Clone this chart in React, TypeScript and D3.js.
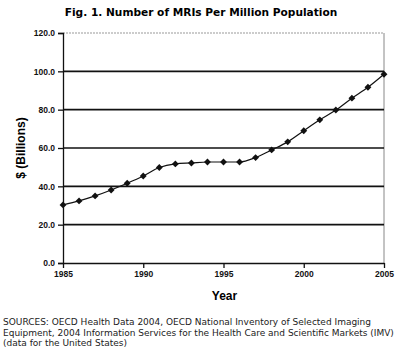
import React, { useRef, useEffect } from "react";
import * as d3 from "d3";

// MRIs per million population, US, 1985-2005
const years = [1985, 1986, 1987, 1988, 1989, 1990, 1991, 1992, 1993, 1994, 1995,
  1996, 1997, 1998, 1999, 2000, 2001, 2002, 2003, 2004, 2005];
const values = [30.3, 32.4, 35.0, 38.1, 41.6, 45.4, 49.8, 51.7, 52.2, 52.7, 52.7,
  52.7, 55.0, 59.0, 63.2, 69.0, 74.7, 79.8, 86.0, 91.7, 98.5];
const yTicks = [0, 20, 40, 60, 80, 100, 120];
const xTickYears = [1985, 1990, 1995, 2000, 2005];
const sourceLines = [
  "SOURCES: OECD Health Data 2004, OECD National Inventory of Selected Imaging",
  "Equipment, 2004 Information Services for the Health Care and Scientific Markets (IMV)",
  "(data for the United States)",
];

const width = 400;
const height = 352;

const App = () => {
  const ref = useRef<SVGSVGElement>(null);

  useEffect(() => {
    const svg = d3.select(ref.current);
    svg.selectChildren().remove();

    const margin = { top: 33, right: 16, bottom: 89, left: 63 };
    const w = width - margin.left - margin.right;
    const h = height - margin.top - margin.bottom;

    const x = d3.scaleLinear().domain([1985, 2005]).range([0, w]);
    const y = d3.scaleLinear().domain([0, 120]).range([h, 0]);

    // Título
    svg.append("text")
      .attr("x", 201)
      .attr("y", 16)
      .attr("text-anchor", "middle")
      .style("font-family", "'DejaVu Sans', Verdana, sans-serif")
      .style("font-weight", "bold")
      .style("font-size", "10.6px")
      .text("Fig. 1. Number of MRIs Per Million Population");

    const g = svg.append("g").attr("transform", `translate(${margin.left},${margin.top})`);

    // Marco gris
    g.append("line")
      .attr("x1", 0).attr("x2", w).attr("y1", 0).attr("y2", 0)
      .style("stroke", "#999").style("stroke-dasharray", "2,1");
    g.append("line")
      .attr("x1", w).attr("x2", w).attr("y1", 0).attr("y2", h)
      .style("stroke", "#888");

    // Rejilla
    g.selectAll(".grid")
      .data(yTicks.filter((d) => d > 0 && d < 120))
      .enter()
      .append("line")
      .attr("x1", 0).attr("x2", w)
      .attr("y1", (d) => y(d)).attr("y2", (d) => y(d))
      .style("stroke", "#111").style("stroke-width", 1.6);

    // Eje Y
    const yAxis = g.append("g")
      .call(d3.axisLeft(y).tickValues(yTicks).tickSize(5).tickPadding(3).tickFormat(d3.format(".1f")));
    yAxis.selectAll("text")
      .style("font-family", "'Liberation Sans', Arial, sans-serif")
      .style("font-weight", "bold")
      .style("font-size", "8.5px")
      .attr("fill", "#111");
    yAxis.selectAll("line,path").attr("stroke", "#111").style("stroke-width", 1.3);

    // Eje X
    const xAxis = g.append("g")
      .attr("transform", `translate(0,${h})`)
      .call(d3.axisBottom(x).tickValues(xTickYears).tickSizeInner(5).tickSizeOuter(0).tickPadding(3).tickFormat(d3.format("d")));
    xAxis.selectAll("text")
      .style("font-family", "'Liberation Sans', Arial, sans-serif")
      .style("font-weight", "bold")
      .style("font-size", "8.5px")
      .attr("fill", "#111");
    xAxis.selectAll("line,path").attr("stroke", "#111").style("stroke-width", 1.3);

    // Títulos de ejes
    svg.append("text")
      .attr("transform", `translate(25,${margin.top + h / 2}) rotate(-90)`)
      .attr("text-anchor", "middle")
      .style("font-family", "'Liberation Sans', Arial, sans-serif")
      .style("font-weight", "bold")
      .style("font-size", "12px")
      .text("$ (Billions)");
    svg.append("text")
      .attr("x", margin.left + w / 2 + 1)
      .attr("y", 300)
      .attr("text-anchor", "middle")
      .style("font-family", "'Liberation Sans', Arial, sans-serif")
      .style("font-weight", "bold")
      .style("font-size", "12px")
      .text("Year");

    // Línea suavizada
    const data = years.map((yr, i) => ({ yr, v: values[i] }));
    const line = d3.line<{ yr: number; v: number }>()
      .x((d) => x(d.yr))
      .y((d) => y(d.v))
      .curve(d3.curveMonotoneX);
    g.append("path")
      .datum(data)
      .attr("d", line)
      .style("fill", "none")
      .style("stroke", "#111")
      .style("stroke-width", 1.2);

    // Marcadores en rombo
    g.selectAll(".pt")
      .data(data)
      .enter()
      .append("path")
      .attr("d", d3.symbol(d3.symbolDiamond2, 30)())
      .attr("transform", (d) => `translate(${x(d.yr)},${y(d.v)})`)
      .style("fill", "#111");

    // Fuentes
    svg.append("g")
      .selectAll("text")
      .data(sourceLines)
      .enter()
      .append("text")
      .attr("x", 3)
      .attr("y", (_d, i) => 325 + i * 10.5)
      .style("font-family", "'DejaVu Sans', Verdana, sans-serif")
      .style("font-size", "9px")
      .attr("fill", "#222")
      .text((d) => d);
  }, []);

  return (
    <svg ref={ref} width={width} height={height}
      style={{ position: "absolute", left: 0, top: 0, background: "#fff" }} />
  );
};

export default App;
